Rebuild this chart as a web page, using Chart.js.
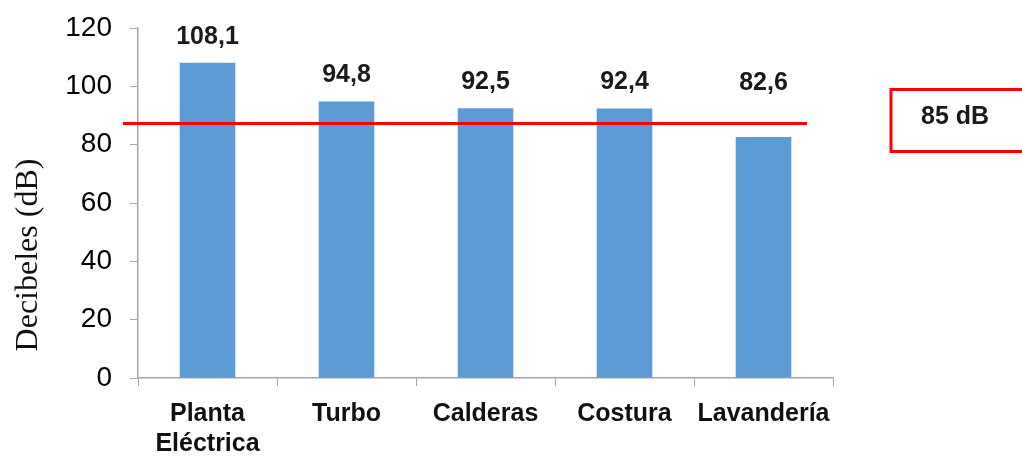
<!DOCTYPE html>
<html lang="es">
<head>
  <meta charset="UTF-8">
  <title>Decibeles por área</title>
  <script src="https://cdn.jsdelivr.net/npm/chart.js"></script>
  <style>
    body {
      margin: 0;
      background: #ffffff;
    }
    #wrap {
      width: 1022px;
      height: 456px;
    }
  </style>
</head>
<body>
  <div id="wrap"><canvas id="dbChart"></canvas></div>

  <script>
    const areas = [['Planta', 'Eléctrica'], 'Turbo', 'Calderas', 'Costura', 'Lavandería'];
    const decibeles = [108.1, 94.8, 92.5, 92.4, 82.6];
    const yTicks = [0, 20, 40, 60, 80, 100, 120];
    const yTitle = 'Decibeles (dB)';
    const limitValue = 87.3;      // where the red line is drawn
    const limitLabel = '85 dB';

    const barColor = '#5B9BD5';
    const lineColor = '#FF0000';
    const axisColor = '#A6A6A6';

    // value labels above bars (kept above the red line)
    const valueLabels = {
      id: 'valueLabels',
      afterDatasetsDraw(chart) {
        const ctx = chart.ctx;
        const y = chart.scales.y;
        const meta = chart.getDatasetMeta(0);
        ctx.save();
        ctx.font = 'bold 25px "Liberation Sans", Arial, sans-serif';
        ctx.fillStyle = '#1a1a1a';
        ctx.textAlign = 'center';
        ctx.textBaseline = 'middle';
        meta.data.forEach((bar, i) => {
          const v = decibeles[i];
          const anchor = y.getPixelForValue(Math.max(v, limitValue + 5));
          ctx.fillText(v.toFixed(1).replace('.', ','), bar.x, anchor - 26);
        });
        ctx.restore();
      }
    };

    // red limit line, its boxed label, and the y axis title (sits low in the original)
    const limitLine = {
      id: 'limitLine',
      afterDatasetsDraw(chart) {
        const ctx = chart.ctx;
        const area = chart.chartArea;
        const py = chart.scales.y.getPixelForValue(limitValue);
        ctx.save();
        ctx.strokeStyle = lineColor;
        ctx.lineWidth = 3;
        ctx.beginPath();
        ctx.moveTo(area.left - 15, py);
        ctx.lineTo(area.right - 26, py);
        ctx.stroke();

        const bx = area.right + 58;
        ctx.strokeRect(bx, 89.5, 150, 62);
        ctx.font = 'bold 25px "Liberation Sans", Arial, sans-serif';
        ctx.fillStyle = '#1a1a1a';
        ctx.textAlign = 'left';
        ctx.textBaseline = 'middle';
        ctx.fillText(limitLabel, bx + 30, 117);

        ctx.translate(29, (area.top + area.bottom) / 2 + 52);
        ctx.rotate(-Math.PI / 2);
        ctx.font = '32px "Liberation Serif", "Times New Roman", serif';
        ctx.fillStyle = '#111';
        ctx.textAlign = 'center';
        ctx.fillText(yTitle, 0, 0);
        ctx.restore();
      }
    };

    new Chart(document.getElementById('dbChart'), {
      type: 'bar',
      data: {
        labels: areas,
        datasets: [{
          data: decibeles,
          backgroundColor: barColor,
          barPercentage: 0.4,
          categoryPercentage: 1.0
        }]
      },
      options: {
        responsive: true,
        maintainAspectRatio: false,
        animation: false,
        layout: {
          padding: { top: 28, right: 189, bottom: 0, left: 0 }
        },
        plugins: {
          legend: { display: false },
          tooltip: { enabled: false }
        },
        scales: {
          x: {
            grid: {
              drawOnChartArea: false,
              drawTicks: true,
              tickLength: 8,
              color: axisColor
            },
            border: { color: axisColor, width: 1.5 },
            ticks: {
              color: '#111',
              padding: 13,
              maxRotation: 0,
              font: { family: '"Liberation Sans", Arial, sans-serif', size: 25, weight: 'bold' }
            },
            afterFit(scale) { scale.height = 78; }
          },
          y: {
            min: 0,
            max: 120,
            afterBuildTicks(scale) {
              scale.ticks = yTicks.map(v => ({ value: v }));
            },
            grid: {
              drawOnChartArea: false,
              drawTicks: true,
              tickLength: 8,
              color: axisColor
            },
            border: { color: axisColor, width: 1.5 },
            ticks: {
              color: '#000',
              padding: 18,
              font: { family: '"Liberation Sans", Arial, sans-serif', size: 28 }
            },
            afterFit(scale) {
              scale.width = 138;
              scale.paddingTop = 0;
              scale.paddingBottom = 0;
            }
          }
        }
      },
      plugins: [valueLabels, limitLine]
    });
  </script>
</body>
</html>
